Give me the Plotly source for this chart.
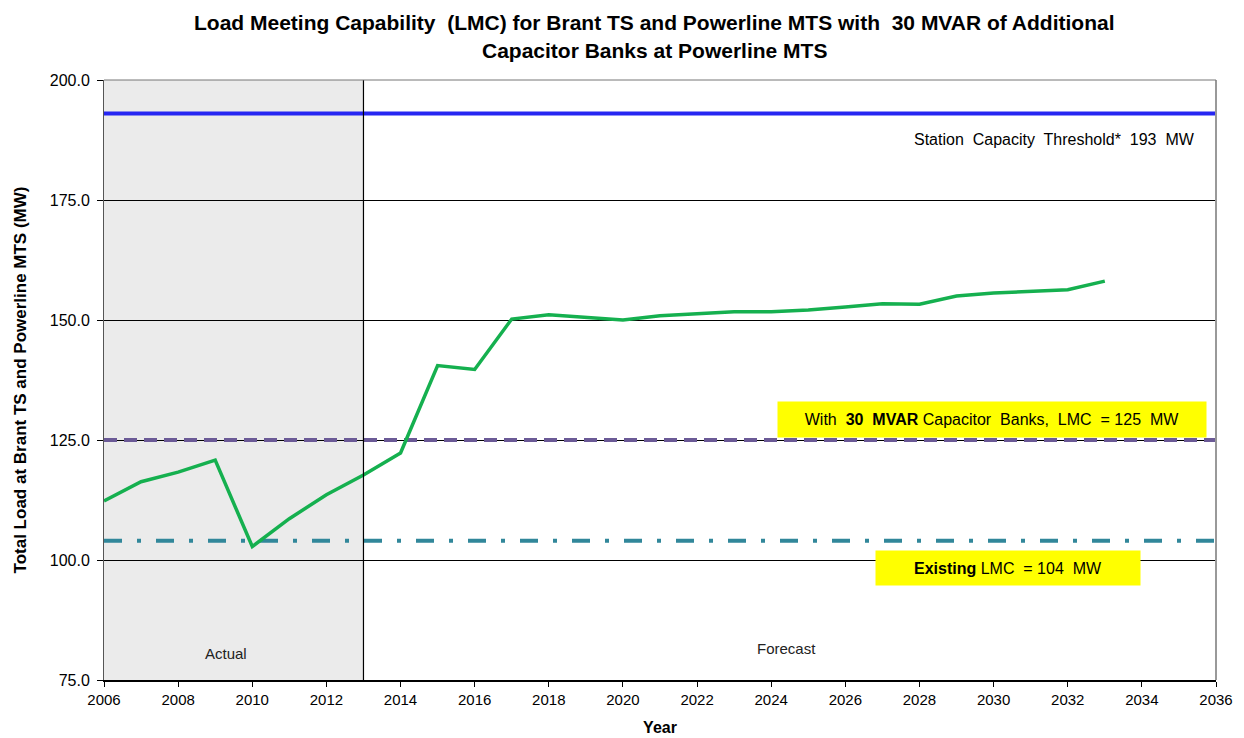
import plotly.graph_objects as go

# Load at Brant TS and Powerline MTS (MW)
years = list(range(2006, 2034))
load_mw = [112.3, 116.3, 118.3, 120.8, 102.8, 108.6, 113.6, 117.7, 122.3, 140.5,
           139.7, 150.2, 151.1, 150.6, 150.0, 150.9, 151.3, 151.7, 151.7, 152.1,
           152.7, 153.4, 153.3, 155.0, 155.6, 156.0, 156.3, 158.1]

# reference levels
station_capacity = 193
lmc_with_caps = 125
lmc_existing = 104

x_range = [2006, 2036]
actual_end = 2013
y_ticks = [75, 100, 125, 150, 175, 200]

title_lines = ["Load Meeting Capability  (LMC) for Brant TS and Powerline MTS with  30 MVAR of Additional",
               "Capacitor Banks at Powerline MTS"]

font_main = "Liberation Sans, Arial, sans-serif"

fig = go.Figure()

# actual-period shading
fig.add_vrect(x0=x_range[0], x1=actual_end, fillcolor="#ebebeb", line_width=0, layer="below")

# horizontal reference lines
fig.add_trace(go.Scatter(x=x_range, y=[station_capacity] * 2, mode="lines",
                         line=dict(color="#2626f2", width=4), showlegend=False))
fig.add_trace(go.Scatter(x=x_range, y=[lmc_with_caps] * 2, mode="lines",
                         line=dict(color="#6b5a96", width=4, dash="13px,7px"), showlegend=False))
fig.add_trace(go.Scatter(x=x_range, y=[lmc_existing] * 2, mode="lines",
                         line=dict(color="#31879a", width=4, dash="18px,15px,4px,15px"), showlegend=False))

# load line
fig.add_trace(go.Scatter(x=years, y=load_mw, mode="lines",
                         line=dict(color="#15b04f", width=3.5), showlegend=False))

# divider between actual and forecast
fig.add_vline(x=actual_end, line_color="black", line_width=1.2)

# title as two centred lines
for txt, shift in zip(title_lines, [58, 30]):
    fig.add_annotation(xref="paper", yref="paper", x=0.4955, y=1, yshift=shift, yanchor="middle",
                       text=f"<b>{txt}</b>", showarrow=False,
                       font=dict(family=font_main, size=21, color="black"))

fig.add_annotation(x=2035.5, y=187.6, text="Station  Capacity  Threshold*  193  MW",
                   showarrow=False, xanchor="right", font=dict(family=font_main, size=16, color="black"))
fig.add_annotation(x=2035.75, y=125, yshift=21, width=414, height=21,
                   text="With  <b>30  MVAR</b> Capacitor  Banks,  LMC  = 125  MW",
                   showarrow=False, xanchor="right", bgcolor="#ffff00", borderpad=7,
                   font=dict(family=font_main, size=16, color="black"))
fig.add_annotation(x=2030.4, y=100, yshift=-8, width=250, height=20,
                   text="<b>Existing</b> LMC  = 104  MW",
                   showarrow=False, xanchor="center", bgcolor="#ffff00", borderpad=7,
                   font=dict(family=font_main, size=16, color="black"))
fig.add_annotation(x=2009.3, y=80.5, text="Actual", showarrow=False,
                   font=dict(family=font_main, size=15, color="#222"))
fig.add_annotation(x=2024.4, y=81.5, text="Forecast", showarrow=False,
                   font=dict(family=font_main, size=15, color="#222"))

fig.update_layout(
    width=1244, height=738,
    paper_bgcolor="white", plot_bgcolor="white",
    margin=dict(l=96, r=36, t=72, b=63),
    xaxis=dict(range=x_range, tickmode="linear", tick0=2006, dtick=2, showgrid=False,
               ticks="outside", ticklen=5, tickcolor="black",
               showline=True, linecolor="black", linewidth=2, mirror=False,
               tickfont=dict(family=font_main, size=15, color="black"),
               title=dict(text="<b>Year</b>", font=dict(family=font_main, size=16, color="black"), standoff=15)),
    yaxis=dict(range=[75, 200], tickvals=y_ticks, ticktext=[f"{v:.1f}" for v in y_ticks],
               showgrid=True, gridcolor="black", gridwidth=1,
               ticks="outside", ticklen=6, tickcolor="black", ticklabelstandoff=4,
               showline=True, linecolor="#555", linewidth=1,
               tickfont=dict(family=font_main, size=16, color="black"),
               title=dict(text="<b>Total Load at Brant TS and Powerline MTS (MW)</b>",
                          font=dict(family=font_main, size=17, color="black"), standoff=18)),
)

# right and top frame
fig.add_shape(type="line", xref="paper", yref="paper", x0=1, x1=1, y0=0, y1=1,
              line=dict(color="#999", width=2))
fig.add_shape(type="line", xref="paper", yref="paper", x0=0, x1=1, y0=1, y1=1,
              line=dict(color="#777", width=1))

fig.write_html("out.html")
